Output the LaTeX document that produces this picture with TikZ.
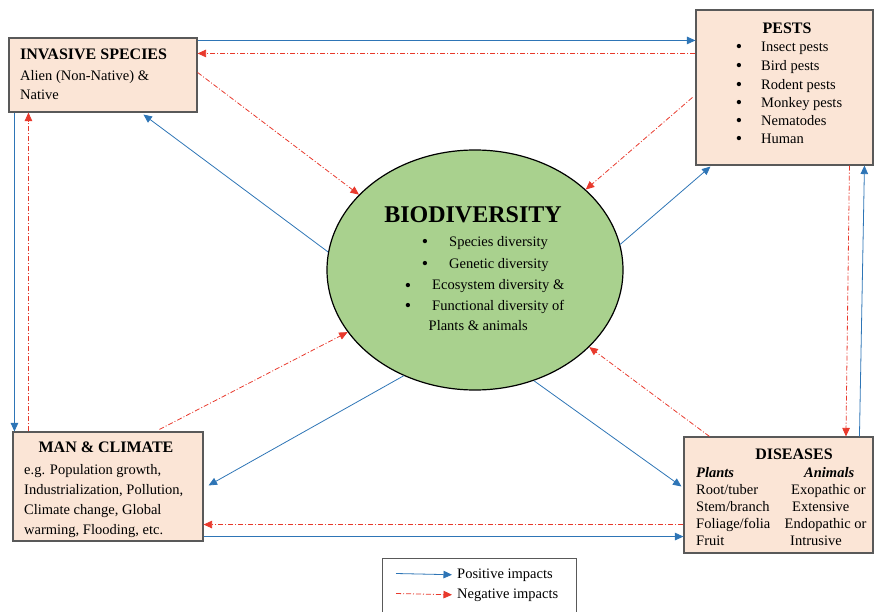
\documentclass[tikz,border=0pt]{standalone}
\usepackage{fontspec}
\setmainfont{Liberation Serif}
\usetikzlibrary{arrows.meta,calc,shapes.geometric}
\definecolor{boxfill}{HTML}{FBE5D6}
\definecolor{boxline}{HTML}{595959}
\definecolor{biofill}{HTML}{A9D18E}
\definecolor{posblue}{HTML}{2E75B6}
\definecolor{negred}{HTML}{E8392C}
\tikzset{
  box/.style={draw=boxline, line width=1.1pt, fill=boxfill, rectangle, inner sep=0pt},
  txt/.style={inner sep=0pt, anchor=base west, font=\fontsize{14.5}{17}\selectfont},
  ttl/.style={inner sep=0pt, anchor=base, font=\fontsize{16}{19}\selectfont\bfseries},
  bul/.style={inner sep=0pt, anchor=base, font=\fontsize{18}{20}\selectfont},
  posarrow/.style={draw=posblue, line width=0.8pt, -{Triangle[length=8.5pt,width=7.5pt]}},
  negarrow/.style={draw=negred, line width=0.8pt, dash pattern=on 5pt off 2pt on 1pt off 2pt, -{Triangle[length=8.5pt,width=7.5pt]}}
}
\begin{document}
\begin{tikzpicture}[x=1pt,y=-1pt]
\useasboundingbox (0,0) rectangle (875,612);
% boxes
\node[box, minimum width=188pt, minimum height=74pt] (inv) at (103,75) {};
\node[box, minimum width=177pt, minimum height=155pt] (pests) at (784.5,87.5) {};
\node[box, minimum width=190pt, minimum height=109pt] (man) at (108,486.5) {};
\node[box, minimum width=189pt, minimum height=116pt] (dis) at (778.5,495) {};
\node[ellipse, draw=black, line width=1.2pt, fill=biofill, minimum width=296pt, minimum height=240pt, inner sep=0pt] (bio) at (475,270) {};
\node[draw=boxline, line width=0.8pt, fill=white, minimum width=194pt, minimum height=64pt, anchor=north west, inner sep=0pt] (leg) at (382,558) {};

% invasive text
\node[ttl, anchor=base west] (invt) at (20,59.5) {INVASIVE SPECIES};
\node[txt] (inv1) at (20,81) {Alien (Non-Native) \&};
\node[txt] (inv2) at (20,100) {Native};

% pests text
\node[ttl] (pestt) at (787,33.5) {PESTS};
\foreach \i/\t/\y in {1/Insect pests/52, 2/Bird pests/70.5, 3/Rodent pests/89.5, 4/Monkey pests/107.5, 5/Nematodes/125.5, 6/Human/144}{
  \node[bul] (pb\i) at (739,\y+1) {\textbullet};
  \node[txt] (p\i) at (761,\y) {\t};
}

% man & climate text
\node[ttl] (mant) at (106,452) {MAN \& CLIMATE};
\node[txt] (m1) at (24,474.5) {e.g. Population growth,};
\node[txt] (m2) at (24,494.5) {Industrialization, Pollution,};
\node[txt] (m3) at (24,514.5) {Climate change, Global};
\node[txt] (m4) at (24,534.5) {warming, Flooding, etc.};

% diseases text
\node[ttl] (dist) at (794,459) {DISEASES};
\node[txt, font=\fontsize{14.5}{17}\selectfont\bfseries\itshape] (plants) at (696,477) {Plants};
\node[txt, font=\fontsize{14.5}{17}\selectfont\bfseries\itshape] (animals) at (804,477) {Animals};
\node[txt] (d1) at (696,494.5) {Root/tuber};
\node[txt] (d2) at (696,511.5) {Stem/branch};
\node[txt] (d3) at (696,528.5) {Foliage/folia};
\node[txt] (d4) at (696,545.5) {Fruit};
\node[txt] (e1) at (791,494.5) {Exopathic or};
\node[txt] (e2) at (792,511.5) {Extensive};
\node[txt] (e3) at (784.5,528.5) {Endopathic or};
\node[txt] (e4) at (790,545.5) {Intrusive};

% biodiversity text
\node[inner sep=0pt, anchor=base, font=\fontsize{24}{28}\selectfont\bfseries] (biot) at (473,223) {BIODIVERSITY};
\node[bul] (bb1) at (425,248) {\textbullet};
\node[txt] (bi1) at (449,247) {Species diversity};
\node[bul] (bb2) at (425,269.5) {\textbullet};
\node[txt] (bi2) at (449,268.5) {Genetic diversity};
\node[bul] (bb3) at (408,291) {\textbullet};
\node[txt] (bi3) at (432,290) {Ecosystem diversity \&};
\node[bul] (bb4) at (408,311.5) {\textbullet};
\node[txt] (bi4) at (432,310.5) {Functional diversity of};
\node[txt] (bi5) at (428.5,330) {Plants \& animals};

% legend
\node[txt] (lpos) at (457,578) {Positive impacts};
\node[txt] (lneg) at (457,598) {Negative impacts};
\coordinate (lps) at (396,573.5);
\coordinate (lns) at (396,593.5);
\draw[posarrow] (lps) -- ($(lpos.west)+(-5,0)$ |- lps);
\draw[negarrow] (lns) -- ($(lneg.west)+(-5,0)$ |- lns);

% horizontal / vertical connectors
\draw[posarrow] ($(inv.north east)+(0,3)$) -- ($(pests.north west)+(0,31)$);
\draw[negarrow] ($(pests.north west)+(0,44)$) -- ($(inv.north east)+(0,16)$);
\draw[posarrow] ($(inv.south west)+(6,0)$) -- ($(man.north west)+(2,0)$);
\draw[negarrow] ($(man.north west)+(16,0)$) -- ($(inv.south west)+(20,0)$);
\draw[negarrow] ($(pests.south west)+(154,0)$) -- ($(dis.north west)+(162.5,0)$);
\draw[posarrow] ($(dis.north west)+(176,0)$) -- ($(pests.south west)+(169,0)$);
\draw[negarrow] ($(dis.south west)+(0,-29)$) -- ($(man.south east)+(0,-17)$);
\draw[posarrow] ($(man.south east)+(0,-5)$) -- ($(dis.south west)+(0,-17)$);

% diagonal connectors
\draw[negarrow] ($(inv.north east)+(0,35)$) -- (bio.147);
\draw[posarrow] (bio.173) -- ($(inv.south west)+(135,2)$);
\draw[negarrow] ($(pests.north west)+(-3,88)$) -- (bio.36);
\draw[posarrow] (bio.10) -- ($(pests.south west)+(15,1)$);
\draw[negarrow] ($(man.north west)+(147,-2)$) -- (bio.206);
\draw[posarrow] (bio.236) -- ($(man.north east)+(5,54)$);
\draw[negarrow] ($(dis.north west)+(26,0)$) -- (bio.326);
\draw[posarrow] (bio.298) -- ($(dis.north west)+(-2,50)$);
\end{tikzpicture}
\end{document}
